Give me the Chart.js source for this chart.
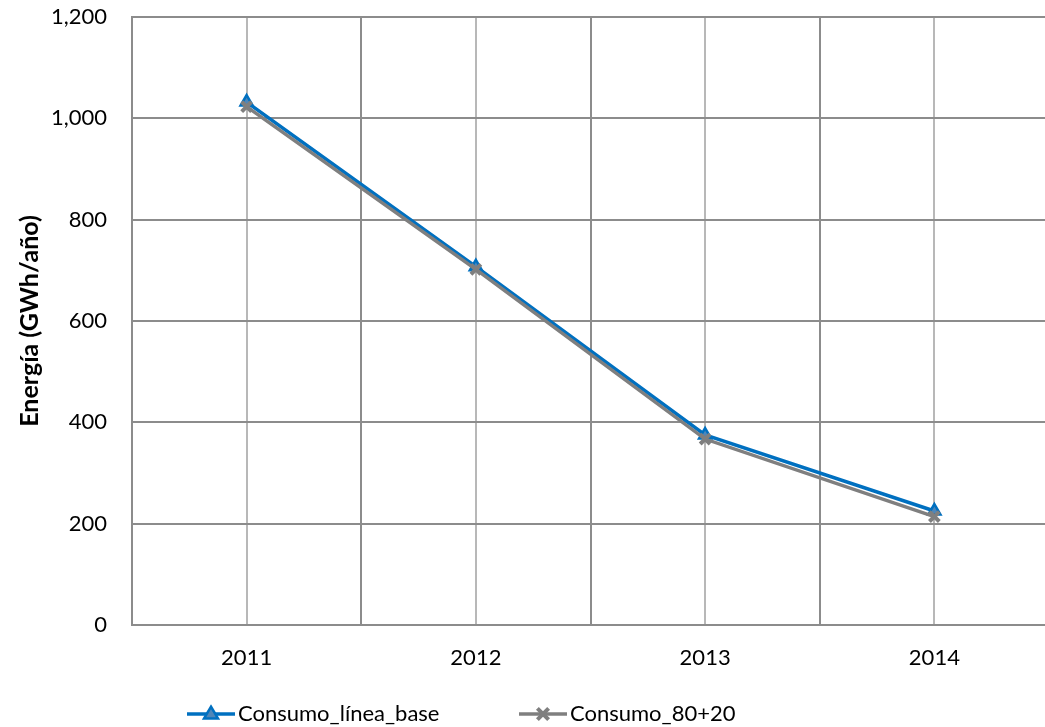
<!DOCTYPE html>
<html><head><meta charset="utf-8">
<script src="https://cdn.jsdelivr.net/npm/chart.js@4.4.1/dist/chart.umd.min.js"></script>
<style>
html,body{margin:0;padding:0;background:#fff;overflow:hidden;width:1045px;height:727px;}
#wrap{position:relative;width:1060px;height:727px;}
</style></head><body>
<div id="wrap"><canvas id="c"></canvas></div>
<script>
// ---- data ----
const years = ['2011', '2012', '2013', '2014'];
const consumoLineaBase = [1032, 707, 375, 225];
const consumo80mas20 = [1023, 702, 367, 214];
const seriesNames = ['Consumo_línea_base', 'Consumo_80+20'];
const yTickValues = [0, 200, 400, 600, 800, 1000, 1200];
const yTitle = 'Energía (GWh/año)';

// ---- styles ----
const FONT = 'Lato, "Liberation Sans", sans-serif';
const BLUE = '#0070C0';
const GRAY = '#7f7f7f';
const GRID_DARK = '#8c8c8c';
const GRID_LIGHT = '#b8b8b8';

const legendPlugin = {
  id: 'lineLegend',
  afterDraw(chart) {
    const ctx = chart.ctx;
    const starts = [187, 519];
    const lineY = 714, textY = 721, lineLen = 48;
    chart.data.datasets.forEach((ds, i) => {
      const x0 = starts[i];
      ctx.save();
      ctx.strokeStyle = ds.borderColor;
      ctx.lineWidth = ds.borderWidth;
      ctx.beginPath(); ctx.moveTo(x0, lineY); ctx.lineTo(x0 + lineLen, lineY); ctx.stroke();
      const cx = x0 + lineLen / 2, r = ds.pointRadius;
      if (ds.pointStyle === 'triangle') {
        const h = r * 1.7;
        ctx.beginPath();
        ctx.moveTo(cx, lineY - h * 0.62);
        ctx.lineTo(cx + r, lineY + h * 0.38);
        ctx.lineTo(cx - r, lineY + h * 0.38);
        ctx.closePath();
        ctx.fillStyle = ds.pointBackgroundColor; ctx.fill();
        ctx.lineWidth = ds.pointBorderWidth; ctx.strokeStyle = ds.pointBorderColor; ctx.stroke();
      } else {
        const d = r * 0.8;
        ctx.lineWidth = ds.pointBorderWidth; ctx.strokeStyle = ds.pointBorderColor;
        ctx.beginPath();
        ctx.moveTo(cx - d, lineY - d); ctx.lineTo(cx + d, lineY + d);
        ctx.moveTo(cx + d, lineY - d); ctx.lineTo(cx - d, lineY + d);
        ctx.stroke();
      }
      ctx.fillStyle = '#000';
      ctx.font = '22px ' + FONT;
      ctx.textBaseline = 'alphabetic';
      ctx.textAlign = 'left';
      ctx.fillText(ds.label, x0 + lineLen + 3, textY);
      ctx.restore();
    });
  }
};

new Chart(document.getElementById('c'), {
  type: 'line',
  data: {
    labels: years,
    datasets: [
      {
        label: seriesNames[0], data: consumoLineaBase,
        borderColor: BLUE, backgroundColor: BLUE, borderWidth: 3.5,
        pointStyle: 'triangle', pointRadius: 7,
        pointBackgroundColor: '#4f86b8', pointBorderColor: BLUE, pointBorderWidth: 2.5,
        tension: 0, order: 1
      },
      {
        label: seriesNames[1], data: consumo80mas20,
        borderColor: GRAY, backgroundColor: GRAY, borderWidth: 3.5,
        pointStyle: 'crossRot', pointRadius: 7,
        pointBackgroundColor: GRAY, pointBorderColor: GRAY, pointBorderWidth: 4,
        tension: 0, order: 0
      }
    ]
  },
  options: {
    responsive: true,
    maintainAspectRatio: false,
    animation: false,
    layout: { padding: { top: 17, right: 4, left: 0, bottom: 0 } },
    plugins: { legend: { display: false }, tooltip: { enabled: false } },
    scales: {
      x: {
        type: 'category', offset: true,
        grid: { offset: true, color: GRID_DARK, lineWidth: 2, drawTicks: false },
        border: { display: true, color: GRID_DARK, width: 2 },
        ticks: { color: '#000', font: { family: FONT, size: 22 }, padding: 20, maxRotation: 0 },
        afterFit: s => { s.height = 102; s.paddingLeft = 0; s.paddingRight = 0; }
      },
      x2: {
        type: 'category', position: 'top', offset: true, labels: years,
        grid: { offset: false, color: GRID_LIGHT, lineWidth: 2, drawTicks: false },
        border: { display: false },
        ticks: { display: false },
        afterFit: s => { s.height = 0; s.paddingLeft = 0; s.paddingRight = 0; s.paddingTop = 0; s.paddingBottom = 0; }
      },
      y: {
        min: yTickValues[0], max: yTickValues[yTickValues.length - 1],
        afterBuildTicks: s => { s.ticks = yTickValues.map(v => ({ value: v })); },
        ticks: {
          color: '#000', font: { family: FONT, size: 22 }, padding: 25,
          callback: v => Number(v).toLocaleString('en-US')
        },
        grid: { color: GRID_DARK, lineWidth: 2, drawTicks: false },
        border: { display: true, color: GRID_DARK, width: 2 },
        title: {
          display: true, text: yTitle, color: '#000',
          font: { family: FONT, size: 25, weight: 'bold' },
          padding: { top: 15, bottom: 0 }
        },
        afterFit: s => { s.width = 132; s.paddingTop = 0; s.paddingBottom = 0; }
      }
    }
  },
  plugins: [legendPlugin]
});
</script>
</body></html>
